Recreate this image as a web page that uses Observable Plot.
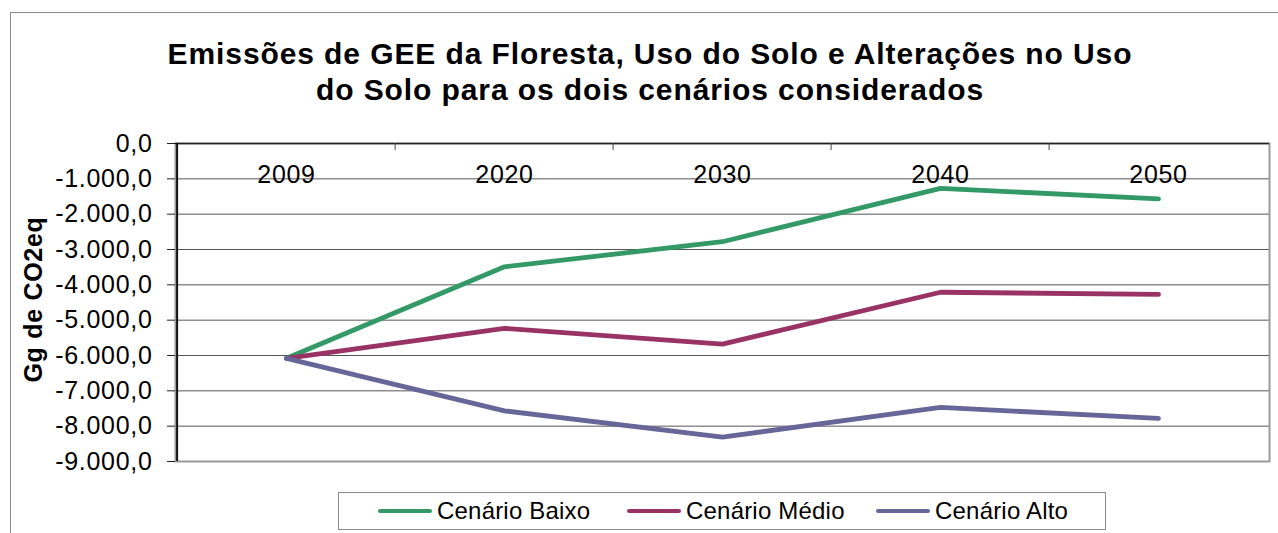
<!DOCTYPE html>
<html>
<head>
<meta charset="utf-8">
<script src="https://cdn.jsdelivr.net/npm/d3@7"></script>
<script src="https://cdn.jsdelivr.net/npm/@observablehq/plot@0.6"></script>
<style>
  html, body { margin: 0; padding: 0; background: #fff; }
  body { width: 1278px; height: 533px; position: relative; overflow: hidden; font-family: Arial, "Liberation Sans", sans-serif; }
  #outer { position: absolute; left: 10px; top: 12px; width: 1300px; height: 560px; border: 1px solid #8c8c8c; box-sizing: border-box; }
  #title { position: absolute; left: 0; width: 1300px; top: 36px; text-align: center; font-weight: bold; font-size: 30px; line-height: 36px; color: #000; letter-spacing: 0.9px; }
  #chart { position: absolute; left: 0; top: 130px; }
  #chart svg text { letter-spacing: 0.7px; }
  #legend { position: absolute; left: 338px; top: 492px; width: 768px; height: 38px; border: 1px solid #8c8c8c; box-sizing: border-box; display: flex; align-items: center; padding-left: 39px; }
  .item { display: flex; align-items: center; width: 249px; flex: 0 0 249px; font-size: 24px; color: #000; letter-spacing: 0.2px; }
  .sw { width: 54px; height: 4.5px; border-radius: 2px; margin-right: 5px; flex: 0 0 54px; }
</style>
</head>
<body>
<div id="outer"></div>
<div id="title">Emissões de GEE da Floresta, Uso do Solo e Alterações no Uso<br>do Solo para os dois cenários considerados</div>
<div id="chart"></div>
<div id="legend"></div>
<script>
// ---- data ----
const years = ["2009", "2020", "2030", "2040", "2050"];
const seriesNames = ["Cenário Baixo", "Cenário Médio", "Cenário Alto"];
const seriesColors = ["#339966", "#993366", "#666699"];
const baixo = [-6080, -3490, -2780, -1270, -1565];
const medio = [-6080, -5230, -5680, -4210, -4270];
const alto  = [-6080, -7565, -8310, -7470, -7780];
const yTicks = [0, -1000, -2000, -3000, -4000, -5000, -6000, -7000, -8000, -9000];
const yLabel = "Gg de CO2eq";

const seriesValues = [baixo, medio, alto];
const rows = [];
seriesNames.forEach((name, s) => {
  years.forEach((yr, i) => rows.push({series: name, year: yr, value: seriesValues[s][i]}));
});

const locale = d3.formatLocale({decimal: ",", thousands: ".", grouping: [3], currency: ["", ""], minus: "-"});
const fmt = locale.format(",.1f");

const W = 1278, H = 345;
const mL = 175, mR = 9, mT = 13, mB = 14;
const step = (W - mL - mR) / years.length;
const plotH = H - mT - mB;

const chart = Plot.plot({
  width: W,
  height: H,
  marginLeft: mL,
  marginRight: mR,
  marginTop: mT,
  marginBottom: mB,
  style: {fontFamily: 'Arial, "Liberation Sans", sans-serif', fontSize: "25px", color: "#000", background: "transparent"},
  x: {type: "point", domain: years, padding: 0.5, axis: null},
  y: {domain: [-9000, 0], axis: null},
  color: {domain: seriesNames, range: seriesColors},
  marks: [
    Plot.gridY(yTicks, {stroke: "#555", strokeOpacity: 1, strokeWidth: 1}),
    Plot.frame({stroke: "#9a9a9a", strokeWidth: 2}),
    Plot.ruleY([0], {stroke: "#222", strokeWidth: 1.5}),
    Plot.ruleX([years[0]], {dx: -step / 2, stroke: "#111", strokeWidth: 2}),
    Plot.ruleX(years.slice(1), {dx: -step / 2, stroke: "#444", strokeWidth: 1, insetBottom: plotH - 7}),
    Plot.axisY(yTicks, {anchor: "left", label: null, tickSize: 8, tickPadding: 15, tickFormat: fmt, stroke: "#222", fontSize: 25, fill: "#000"}),
    Plot.text(years, {x: d => d, frameAnchor: "top", dy: 31, lineAnchor: "middle", fontSize: 25, fill: "#000"}),
    Plot.text([yLabel], {frameAnchor: "left", rotate: -90, dx: -142, dy: -3, textAnchor: "middle", lineAnchor: "middle", fontWeight: "bold", fontSize: 25, fill: "#000"}),
    Plot.line(rows, {x: "year", y: "value", z: "series", stroke: "series", strokeWidth: 4.8, strokeLinecap: "round", strokeLinejoin: "round"})
  ]
});
document.getElementById("chart").appendChild(chart);

const legend = document.getElementById("legend");
seriesNames.forEach((name, i) => {
  const item = document.createElement("div");
  item.className = "item";
  const sw = document.createElement("span");
  sw.className = "sw";
  sw.style.background = seriesColors[i];
  const t = document.createElement("span");
  t.textContent = name;
  item.appendChild(sw);
  item.appendChild(t);
  legend.appendChild(item);
});
</script>
</body>
</html>
